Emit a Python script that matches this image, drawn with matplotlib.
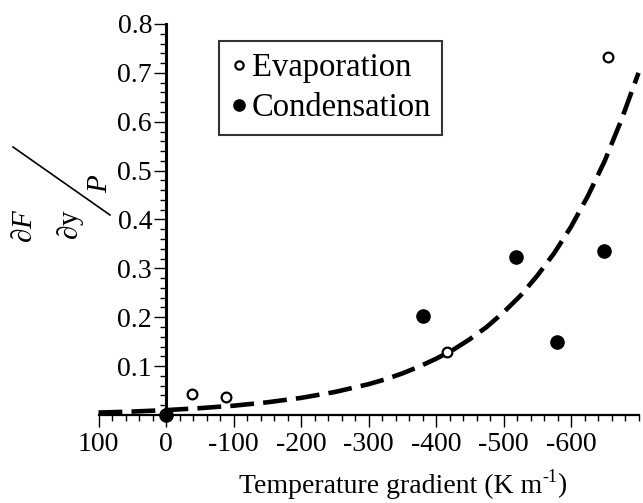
import matplotlib
matplotlib.use("Agg")
import matplotlib.pyplot as plt
from matplotlib.lines import Line2D
from matplotlib.ticker import MultipleLocator

plt.rcParams['font.family'] = ['Liberation Serif', 'DejaVu Serif']
plt.rcParams['mathtext.fontset'] = 'custom'
plt.rcParams['mathtext.rm'] = 'Liberation Serif'
plt.rcParams['mathtext.it'] = 'Liberation Serif:italic'
plt.rcParams['axes.unicode_minus'] = False

# Data
evap_x = [-38, -89, -416, -655]
evap_y = [0.043, 0.036, 0.128, 0.732]
cond_x = [0, -381, -519, -579, -649]
cond_y = [0.0, 0.202, 0.323, 0.149, 0.335]
fit_x = [100, 50, 0, -50, -100, -150, -200, -250, -300, -325, -350, -375,
         -400, -425, -450, -475, -500, -525, -550, -575, -600, -625, -650,
         -675, -700]
fit_y = [0.005, 0.007, 0.010, 0.014, 0.019, 0.026, 0.035, 0.047, 0.063,
         0.073, 0.085, 0.099, 0.115, 0.133, 0.155, 0.180, 0.210, 0.244,
         0.285, 0.331, 0.385, 0.448, 0.52, 0.605, 0.70]
xtick_vals = [100, 0, -100, -200, -300, -400, -500, -600]
xtick_labels = ['100', '0', '-100', '-200', '-300', '-400', '-500', '-600']
ytick_vals = [0.1, 0.2, 0.3, 0.4, 0.5, 0.6, 0.7, 0.8]
ytick_labels = ['0.1', '0.2', '0.3', '0.4', '0.5', '0.6', '0.7', '0.8']

W, H = 643, 503
fig = plt.figure(figsize=(W / 100, H / 100), dpi=100)
ax = fig.add_axes([98.5 / W, 1 - 415 / H, 540 / W, 391 / H])

ax.plot(fit_x, fit_y, color='black', lw=3.3, dashes=(5.2, 2.0), zorder=2,
        clip_on=False, solid_joinstyle='round', dash_joinstyle='round')
ax.plot(evap_x, evap_y, 'o', ms=7, mfc='white', mec='black', mew=1.6,
        zorder=3, clip_on=False, label='Evaporation')
ax.plot(cond_x, cond_y, 'o', ms=9.5, mfc='black', mec='black',
        zorder=3, clip_on=False, label='Condensation')

ax.set_xlim(100, -700)
ax.set_ylim(0, 0.8)
ax.spines['left'].set_position(('data', 0))
ax.spines['top'].set_visible(False)
ax.spines['right'].set_visible(False)
ax.spines['left'].set_linewidth(2.2)
ax.spines['bottom'].set_linewidth(1.6)

ax.set_xticks(xtick_vals)
ax.set_xticklabels(xtick_labels)
ax.set_yticks(ytick_vals)
ax.set_yticklabels(ytick_labels)
ax.xaxis.set_minor_locator(MultipleLocator(20))
ax.yaxis.set_minor_locator(MultipleLocator(0.02))
ax.tick_params(axis='both', which='major', direction='out', length=8.5,
               width=1.0, labelsize=20, color='black')
ax.tick_params(axis='both', which='minor', direction='out', length=4,
               width=1.0)
ax.tick_params(axis='y', which='major', pad=1.5)
ax.tick_params(axis='x', which='major', pad=4)

# x label with a hyphen superscript, assembled from pieces
renderer = fig.canvas.get_renderer()
yl = 1 - 486 / H
parts = [('Temperature gradient (K m', 20, 0), ('-1', 13, 8), (')', 20, 0)]
texts = []
for s, fs, dy in parts:
    t = fig.text(0, yl + dy / H, s, fontsize=fs, ha='left', va='center')
    texts.append(t)
widths = [t.get_window_extent(renderer).width for t in texts]
total = sum(widths)
x0 = 403 - total / 2
for t, w in zip(texts, widths):
    t.set_x(x0 / W)
    x0 += w

# y label: (dF/dy) / P written as a slanted fraction
fig.text(25 / W, 1 - 226 / H, r'$\partial F$', fontsize=21, rotation=90,
         ha='center', va='center')
fig.text(70 / W, 1 - 225 / H, r'$\partial \mathrm{y}$', fontsize=21,
         rotation=90, ha='center', va='center')
fig.text(100 / W, 1 - 183 / H, r'$P$', fontsize=21, rotation=90,
         ha='center', va='center')
fig.add_artist(Line2D([13 / W, 110 / W], [1 - 147 / H, 1 - 215 / H],
                      transform=fig.transFigure, color='black', lw=1.2))

leg = ax.legend(loc='upper left', bbox_to_anchor=(219 / W, 1 - 41 / H),
                bbox_transform=fig.transFigure, borderaxespad=0,
                fontsize=23.5, frameon=True, fancybox=False,
                handlelength=0.5, handletextpad=0.15, borderpad=0.35,
                labelspacing=0.3, markerscale=0.85)
leg.get_frame().set_edgecolor('black')
leg.get_frame().set_linewidth(1.5)

fig.savefig('out.png', dpi=100)
